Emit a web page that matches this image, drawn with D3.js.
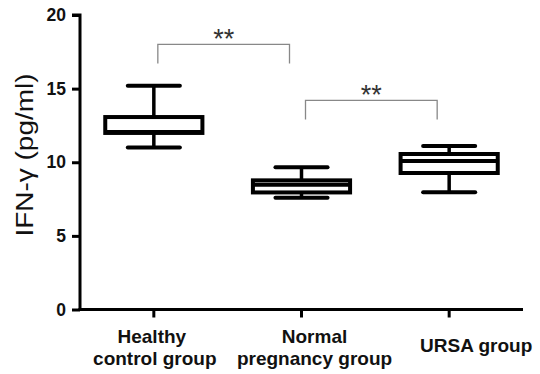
<!DOCTYPE html>
<html>
<head>
<meta charset="utf-8">
<script src="https://cdn.jsdelivr.net/npm/d3@7"></script>
<style>
  body { margin: 0; background: #fff; }
  svg { display: block; font-family: Arial, "Liberation Sans", sans-serif; }
</style>
</head>
<body>
<div id="chart"></div>
<script>
// values (pg/ml)
var groups = ["Healthy control group", "Normal pregnancy group", "URSA group"];
var groupLines = [["Healthy", "control group"], ["Normal", "pregnancy group"], ["URSA group"]];
var whiskerLow = [11.0, 7.59, 7.96];
var q1 = [11.99, 7.95, 9.27];
var median = [12.05, 8.47, 10.08];
var q3 = [13.07, 8.77, 10.56];
var whiskerHigh = [15.2, 9.66, 11.1];

var yTicks = [0, 5, 10, 15, 20];

// significance brackets between neighbouring groups
var sigFrom = [0, 1];
var sigTo = [1, 2];
var sigLevel = [18.0, 14.2];
var sigLabel = ["**", "**"];

var width = 540, height = 374;
var margin = { top: 15, right: 17, bottom: 64.5, left: 80 };

var svg = d3.select("#chart").append("svg")
    .attr("width", width)
    .attr("height", height);

var x = d3.scaleBand()
    .domain(groups)
    .range([margin.left, width - margin.right])
    .padding(0);

var y = d3.scaleLinear()
    .domain([0, 20])
    .range([height - margin.bottom, margin.top]);

var boxes = groups.map((g, i) => ({
    group: g, lo: whiskerLow[i], q1: q1[i], med: median[i], q3: q3[i], hi: whiskerHigh[i]
}));

// y axis
var yAxis = svg.append("g")
    .attr("transform", `translate(${margin.left},0)`)
    .call(d3.axisLeft(y).tickValues(yTicks).tickSize(8).tickPadding(6));
yAxis.select(".domain").attr("stroke-width", 3).attr("d", `M-8,${y(20)}H0V${y(0) + 1.5}`);
yAxis.selectAll(".tick line").attr("stroke-width", 3);
yAxis.selectAll(".tick text")
    .attr("font-size", 17.5).attr("font-weight", "bold").attr("fill", "#111");

// x axis
var xAxis = svg.append("g")
    .attr("transform", `translate(0,${y(0)})`)
    .call(d3.axisBottom(x).tickSize(8).tickFormat(""));
xAxis.select(".domain").attr("stroke-width", 3).attr("d", `M${margin.left - 1.5},0H${width - margin.right}`);
xAxis.selectAll(".tick line").attr("stroke-width", 3);

// label nudges as in the original figure
var labelShift = [-2, 13, 27];
groups.forEach((g, i) => {
    var lines = groupLines[i];
    var t = svg.append("text")
        .attr("text-anchor", "middle")
        .attr("font-size", 19)
        .attr("font-weight", "bold")
        .attr("fill", "#111");
    var y0 = lines.length === 1 ? 352 : 343;
    lines.forEach((s, k) => {
        t.append("tspan")
            .attr("x", x(g) + x.bandwidth() / 2 + labelShift[i] + (k === 1 && i === 0 ? 3 : 0))
            .attr("y", y0 + k * 22)
            .text(s);
    });
});

// y title
svg.append("text")
    .attr("transform", `translate(33,${(73 + 237) / 2}) rotate(-90)`)
    .attr("text-anchor", "middle")
    .attr("font-size", 23)
    .attr("fill", "#111")
    .attr("textLength", 163)
    .attr("lengthAdjust", "spacingAndGlyphs")
    .text("IFN-γ (pg/ml)");

// box plots
var boxW = x.bandwidth() * 0.685;
var capW = boxW * 0.515;
var cx = d => x(d.group) + x.bandwidth() / 2;
var g = svg.append("g").attr("stroke", "#000").attr("fill", "none");
var bx = g.selectAll("g.box").data(boxes).join("g").attr("class", "box");

bx.append("line")
    .attr("x1", cx).attr("x2", cx)
    .attr("y1", d => y(d.hi)).attr("y2", d => y(d.q3))
    .attr("stroke-width", 3.5);
bx.append("line")
    .attr("x1", cx).attr("x2", cx)
    .attr("y1", d => y(d.q1)).attr("y2", d => y(d.lo))
    .attr("stroke-width", 3.5);
bx.append("line")
    .attr("x1", d => cx(d) - capW / 2).attr("x2", d => cx(d) + capW / 2)
    .attr("y1", d => y(d.hi)).attr("y2", d => y(d.hi))
    .attr("stroke-width", 4).attr("stroke-linecap", "round");
bx.append("line")
    .attr("x1", d => cx(d) - capW / 2).attr("x2", d => cx(d) + capW / 2)
    .attr("y1", d => y(d.lo)).attr("y2", d => y(d.lo))
    .attr("stroke-width", 4).attr("stroke-linecap", "round");
bx.append("rect")
    .attr("x", d => cx(d) - boxW / 2 + 2)
    .attr("width", boxW - 4)
    .attr("y", d => y(d.q3))
    .attr("height", d => y(d.q1) - y(d.q3))
    .attr("fill", "#fff")
    .attr("stroke-width", 4);
bx.append("line")
    .attr("x1", d => cx(d) - boxW / 2 + 2).attr("x2", d => cx(d) + boxW / 2 - 2)
    .attr("y1", d => y(d.med)).attr("y2", d => y(d.med))
    .attr("stroke-width", 4);

// significance brackets
var sig = sigFrom.map((f, i) => ({ a: groups[f], b: groups[sigTo[i]], v: sigLevel[i], label: sigLabel[i] }));
var sg = svg.append("g");
sg.selectAll("path").data(sig).join("path")
    .attr("fill", "none")
    .attr("stroke", "#888")
    .attr("stroke-width", 1.3)
    .attr("d", d => {
        var x1 = x(d.a) + x.bandwidth() / 2 + 4;
        var x2 = x(d.b) + x.bandwidth() / 2 - 12;
        var yt = y(d.v);
        return `M${x1},${yt + 19}V${yt}H${x2}V${yt + 19}`;
    });
sg.selectAll("text").data(sig).join("text")
    .attr("x", d => (x(d.a) + x(d.b)) / 2 + x.bandwidth() / 2 - 4)
    .attr("y", d => y(d.v) + 4)
    .attr("text-anchor", "middle")
    .attr("font-size", 27)
    .attr("fill", "#333")
    .text(d => d.label);
</script>
</body>
</html>
